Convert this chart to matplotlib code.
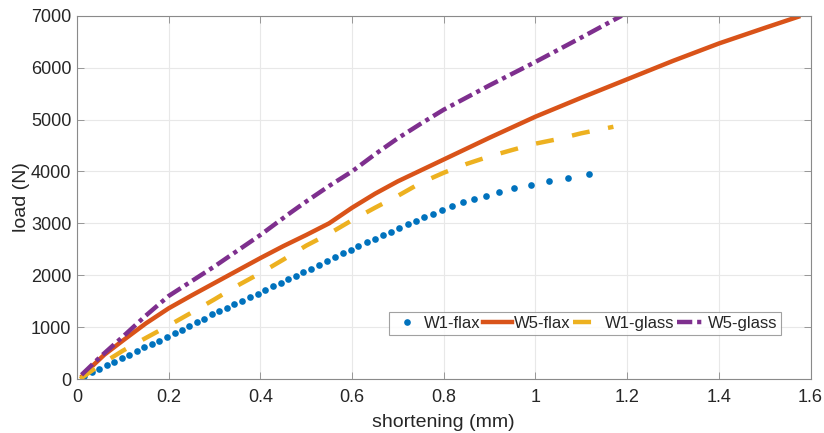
import matplotlib
matplotlib.use("Agg")
import matplotlib.pyplot as plt

# Data
w1_flax_x = [0.016, 0.032, 0.049, 0.065, 0.081, 0.098, 0.114, 0.131, 0.147, 0.164,
             0.180, 0.196, 0.213, 0.229, 0.245, 0.261, 0.277, 0.294, 0.310, 0.327,
             0.343, 0.361, 0.377, 0.394, 0.410, 0.427, 0.444, 0.460, 0.477, 0.494,
             0.511, 0.528, 0.545, 0.563, 0.580, 0.597, 0.614, 0.632, 0.649, 0.667,
             0.684, 0.702, 0.721, 0.739, 0.757, 0.777, 0.796, 0.819, 0.842, 0.866,
             0.892, 0.921, 0.954, 0.990, 1.029, 1.071, 1.116]
w1_flax_y = [51, 128, 193, 263, 328, 405, 469, 533, 610, 674,
             739, 816, 880, 951, 1015, 1095, 1165, 1250, 1310, 1375,
             1445, 1509, 1574, 1638, 1715, 1786, 1856, 1921, 1985, 2062,
             2126, 2200, 2280, 2357, 2422, 2492, 2557, 2634, 2698, 2769,
             2839, 2910, 2981, 3051, 3115, 3189, 3263, 3340, 3404, 3469,
             3533, 3610, 3674, 3738, 3809, 3880, 3950]

w5_flax_x = [0.012, 0.03, 0.06, 0.1, 0.15, 0.2, 0.25, 0.3, 0.35, 0.4, 0.45, 0.5,
             0.55, 0.575, 0.6, 0.65, 0.7, 0.75, 0.8, 0.9, 1.0, 1.1, 1.2, 1.3,
             1.4, 1.5, 1.573]
w5_flax_y = [60, 220, 470, 740, 1070, 1362, 1610, 1850, 2090, 2330, 2560, 2775,
             3000, 3150, 3300, 3570, 3810, 4020, 4230, 4650, 5055, 5420, 5775, 6130,
             6465, 6765, 6980]

w1_glass_x = [0.007, 0.05, 0.1, 0.15, 0.2, 0.25, 0.3, 0.35, 0.4, 0.45, 0.5, 0.55,
              0.6, 0.65, 0.7, 0.75, 0.8, 0.85, 0.9, 0.95, 1.0, 1.05, 1.1, 1.17]
w1_glass_y = [0, 270, 545, 790, 1030, 1280, 1535, 1800, 2040, 2300, 2570, 2800,
              3060, 3300, 3530, 3780, 3975, 4145, 4290, 4415, 4535, 4625, 4735, 4860]

w5_glass_x = [0.010, 0.05, 0.1, 0.15, 0.2, 0.3, 0.4, 0.465, 0.5, 0.55, 0.6, 0.65,
              0.7, 0.75, 0.8, 0.9, 1.0, 1.1, 1.188]
w5_glass_y = [80, 420, 815, 1220, 1600, 2170, 2775, 3200, 3420, 3720, 4000, 4330,
              4640, 4920, 5190, 5660, 6110, 6580, 7000]

x_ticks = [0, 0.2, 0.4, 0.6, 0.8, 1, 1.2, 1.4, 1.6]
x_tick_labels = ['0', '0.2', '0.4', '0.6', '0.8', '1', '1.2', '1.4', '1.6']
y_ticks = [0, 1000, 2000, 3000, 4000, 5000, 6000, 7000]

plt.rcParams['font.family'] = ['Liberation Sans', 'DejaVu Sans']
plt.rcParams['lines.scale_dashes'] = False

text_col = '#262626'

fig = plt.figure(figsize=(8.24, 4.33), dpi=100)
ax = fig.add_axes([0.0934, 0.1247, 0.8903, 0.839])

ax.plot(w1_flax_x, w1_flax_y, linestyle='none', marker='o', markersize=4.8,
        markeredgewidth=0, color='#0072BD', label='W1-flax')
ax.plot(w5_flax_x, w5_flax_y, '-', lw=3.2, color='#D95319', label='W5-flax')
ax.plot(w1_glass_x, w1_glass_y, lw=3.2, color='#EDB120', dashes=(13, 13.5),
        label='W1-glass')
ax.plot(w5_glass_x, w5_glass_y, lw=3.2, color='#7E2F8E', dashes=(11, 3.5, 3, 3.5),
        label='W5-glass')

ax.set_xlim(0, 1.6)
ax.set_ylim(0, 7000)
ax.set_xticks(x_ticks)
ax.set_xticklabels(x_tick_labels)
ax.set_yticks(y_ticks)

ax.grid(True, color='#e8e8e8', lw=0.8)
ax.set_axisbelow(True)
for s in ax.spines.values():
    s.set_color('#8a8a8a')
    s.set_linewidth(0.8)
ax.tick_params(direction='in', length=5, width=0.6, color='#8a8a8a',
               labelsize=13, labelcolor=text_col, top=True, right=True)
ax.tick_params(axis='x', pad=7)
ax.tick_params(axis='y', pad=4)

ax.set_xlabel('shortening (mm)', fontsize=14, color=text_col, labelpad=6)
ax.set_ylabel('load (N)', fontsize=14, color=text_col, labelpad=1)

leg = ax.legend(loc='center', bbox_to_anchor=(0.710, 0.2529),
                bbox_transform=fig.transFigure, ncol=4, fontsize=12,
                numpoints=1, handlelength=1.75, handletextpad=0.12,
                columnspacing=0.15, borderpad=0.22, frameon=True, fancybox=False,
                borderaxespad=0)
leg.get_frame().set_edgecolor('#8a8a8a')
leg.get_frame().set_linewidth(0.8)
for t in leg.get_texts():
    t.set_color(text_col)

fig.savefig('out.png', dpi=100)
